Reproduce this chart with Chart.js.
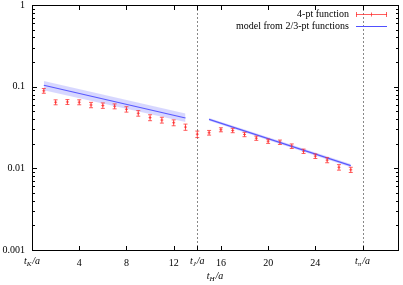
<!DOCTYPE html>
<html>
<head>
<meta charset="utf-8">
<script src="https://cdn.jsdelivr.net/npm/chart.js@4.4.1/dist/chart.umd.min.js"></script>
<style>
html,body{margin:0;padding:0;background:#fff;}
#wrap{width:403px;height:285px;position:relative;}
</style>
</head>
<body>
<div id="wrap"><canvas id="c" width="403" height="285"></canvas></div>
<script>
// ---- data ----
const tValues = [1,2,3,4,5,6,7,8,9,10,11,12,13,14,15,16,17,18,19,20,21,22,23,24,25,26,27];
const fourPt = [0.089,0.0645,0.065,0.0645,0.0597,0.0587,0.0575,0.0528,0.0472,0.0418,0.039,0.0362,0.032,0.0262,
                0.0273,0.0297,0.0291,0.026,0.0234,0.0215,0.0209,0.0187,0.0162,0.0141,0.0126,0.0103,0.0096];
const fourPtErr = [0.006,0.0045,0.0045,0.0045,0.0045,0.0045,0.004,0.004,0.0037,0.0035,0.0032,0.003,0.0028,0.0024,
                   0.0018,0.0017,0.0018,0.0016,0.0014,0.0013,0.0013,0.0012,0.001,0.0009,0.0009,0.0008,0.0007];
const modelT1 = [1,13];
const model1 = [0.104,0.0413];
const model1Lo = [0.0906,0.0369];
const model1Hi = [0.117,0.0468];
const modelT2 = [15,27];
const model2 = [0.0398,0.0108];
const model2Lo = [0.0382,0.0103];
const model2Hi = [0.0414,0.0113];
const xTicks = [0,4,8,12,14,16,20,24,28];
const xSpecial = {0:'K',14:'J',28:'\u03c0'};
const yTicks = [0.001,0.01,0.1,1];
const vLines = [14,28];
const legendLabels = ['4-pt function','model from 2/3-pt functions'];

const RED = 'rgba(255,40,40,0.75)';
const BLUE = 'rgb(80,80,255)';
const BAND = 'rgba(110,110,255,0.28)';
const SERIF = '"Liberation Serif","DejaVu Serif",serif';

const pts = (xs, ys) => xs.map((x,i)=>({x:x,y:ys[i]}));

function drawTLabel(ctx, cx, cy, sub){
  ctx.save();
  ctx.fillStyle = '#000';
  ctx.textBaseline = 'middle';
  ctx.textAlign = 'left';
  const f1 = 'italic 10px ' + SERIF, f2 = 'italic 7px ' + SERIF;
  ctx.font = f1; const w1 = ctx.measureText('t').width;
  ctx.font = f2; const w2 = ctx.measureText(sub).width;
  ctx.font = f1; const w3 = ctx.measureText('/a').width;
  let x = cx - (w1+w2+w3+1)/2;
  ctx.font = f1; ctx.fillText('t', x, cy); x += w1;
  ctx.font = f2; ctx.fillText(sub, x, cy+3); x += w2+1;
  ctx.font = f1; ctx.fillText('/a', x, cy);
  ctx.restore();
}

const decor = {
  id:'decor',
  beforeDatasetsDraw(chart){
    const ctx = chart.ctx, a = chart.chartArea, x = chart.scales.x;
    ctx.save();
    ctx.strokeStyle = '#888'; ctx.lineWidth = 1; ctx.setLineDash([2,2]);
    vLines.forEach(v=>{
      const px = Math.round(x.getPixelForValue(v))+0.5;
      ctx.beginPath(); ctx.moveTo(px,a.top); ctx.lineTo(px,a.bottom); ctx.stroke();
    });
    ctx.restore();
  },
  afterDatasetsDraw(chart){
    const ctx = chart.ctx, x = chart.scales.x, y = chart.scales.y;
    ctx.save();
    ctx.strokeStyle = RED; ctx.lineWidth = 1;
    tValues.forEach((t,i)=>{
      const px = x.getPixelForValue(t);
      const y1 = y.getPixelForValue(fourPt[i]-fourPtErr[i]);
      const y2 = y.getPixelForValue(fourPt[i]+fourPtErr[i]);
      ctx.beginPath();
      ctx.moveTo(px,y1); ctx.lineTo(px,y2);
      ctx.moveTo(px-2,y1); ctx.lineTo(px+2,y1);
      ctx.moveTo(px-2,y2); ctx.lineTo(px+2,y2);
      ctx.stroke();
    });
    ctx.restore();
  },
  afterDraw(chart){
    const ctx = chart.ctx, a = chart.chartArea, x = chart.scales.x, y = chart.scales.y;
    ctx.save();
    ctx.setLineDash([]);
    ctx.globalAlpha = 1;
    ctx.fillStyle = '#000';
    const L = Math.round(a.left), R = Math.round(a.right), T = Math.round(a.top), B = Math.round(a.bottom);
    ctx.fillRect(L, T, R-L, 1);
    ctx.fillRect(L, B, R-L+1, 1);
    ctx.fillRect(L, T, 1, B-T);
    ctx.fillRect(R, T, 1, B-T);
    xTicks.forEach(v=>{
      const px = Math.round(x.getPixelForValue(v));
      ctx.fillRect(px, B-4, 1, 4);
      ctx.fillRect(px, T+1, 1, 4);
    });
    for(let d=-3; d<0; d++){
      for(let m=1; m<=9; m++){
        const v = m*Math.pow(10,d);
        const py = Math.round(y.getPixelForValue(v));
        const len = m===1?4:2;
        ctx.fillRect(L+1, py, len, 1);
        ctx.fillRect(R-len, py, len, 1);
      }
    }
    Object.keys(xSpecial).forEach(k=>{
      drawTLabel(ctx, x.getPixelForValue(+k), 261, xSpecial[k]);
    });
    drawTLabel(ctx, (a.left+a.right)/2, 276, 'H');
    ctx.font = '10px ' + SERIF; ctx.fillStyle = '#000';
    ctx.textAlign = 'right'; ctx.textBaseline = 'middle';
    ctx.fillText(legendLabels[0], 349, 14.5);
    ctx.fillText(legendLabels[1], 349, 26);
    ctx.strokeStyle = RED; ctx.lineWidth = 1;
    ctx.beginPath();
    ctx.moveTo(356,14.5); ctx.lineTo(387,14.5);
    ctx.moveTo(356.5,12); ctx.lineTo(356.5,17);
    ctx.moveTo(386.5,12); ctx.lineTo(386.5,17);
    ctx.moveTo(371.5,12.5); ctx.lineTo(371.5,16.5);
    ctx.stroke();
    ctx.strokeStyle = BLUE;
    ctx.beginPath(); ctx.moveTo(356,26.5); ctx.lineTo(387,26.5); ctx.stroke();
    ctx.restore();
  }
};

function zeroPad(s){ s.paddingTop = 0; s.paddingBottom = 0; s.paddingLeft = 0; s.paddingRight = 0; }

new Chart(document.getElementById('c'), {
  type:'scatter',
  data:{
    datasets:[
      {data:pts(modelT1,model1Lo), showLine:true, borderWidth:0, borderColor:'transparent', pointRadius:0, fill:false},
      {data:pts(modelT1,model1Hi), showLine:true, borderWidth:0, borderColor:'transparent', pointRadius:0, fill:'-1', backgroundColor:BAND},
      {data:pts(modelT2,model2Lo), showLine:true, borderWidth:0, borderColor:'transparent', pointRadius:0, fill:false},
      {data:pts(modelT2,model2Hi), showLine:true, borderWidth:0, borderColor:'transparent', pointRadius:0, fill:'-1', backgroundColor:BAND},
      {data:pts(modelT1,model1), showLine:true, borderWidth:1.2, borderColor:BLUE, pointRadius:0, fill:false},
      {data:pts(modelT2,model2), showLine:true, borderWidth:1.2, borderColor:BLUE, pointRadius:0, fill:false},
      {data:pts(tValues,fourPt), showLine:false, pointStyle:'cross', pointRadius:1.5, borderWidth:1, borderColor:RED, backgroundColor:RED}
    ]
  },
  options:{
    responsive:false, animation:false, devicePixelRatio:1,
    layout:{padding:{left:0,right:1,top:5,bottom:0}},
    plugins:{legend:{display:false}, tooltip:{enabled:false}},
    scales:{
      x:{
        type:'linear', min:0, max:31,
        grid:{display:false, drawTicks:false}, border:{display:false},
        afterBuildTicks:s=>{ s.ticks = xTicks.map(v=>({value:v})); },
        afterFit:s=>{ s.height = 35; zeroPad(s); },
        ticks:{autoSkip:false, maxRotation:0, padding:7, color:'#000', font:{family:SERIF, size:10},
          callback:v=> (v in xSpecial) ? '' : String(v)}
      },
      y:{
        type:'logarithmic', min:0.001, max:1,
        grid:{display:false, drawTicks:false}, border:{display:false},
        afterBuildTicks:s=>{ s.ticks = yTicks.map(v=>({value:v})); },
        afterFit:s=>{ s.width = 32; zeroPad(s); },
        ticks:{autoSkip:false, padding:7, color:'#000', font:{family:SERIF, size:10},
          callback:v=> String(v)}
      }
    }
  },
  plugins:[decor]
});
</script>
</body>
</html>
